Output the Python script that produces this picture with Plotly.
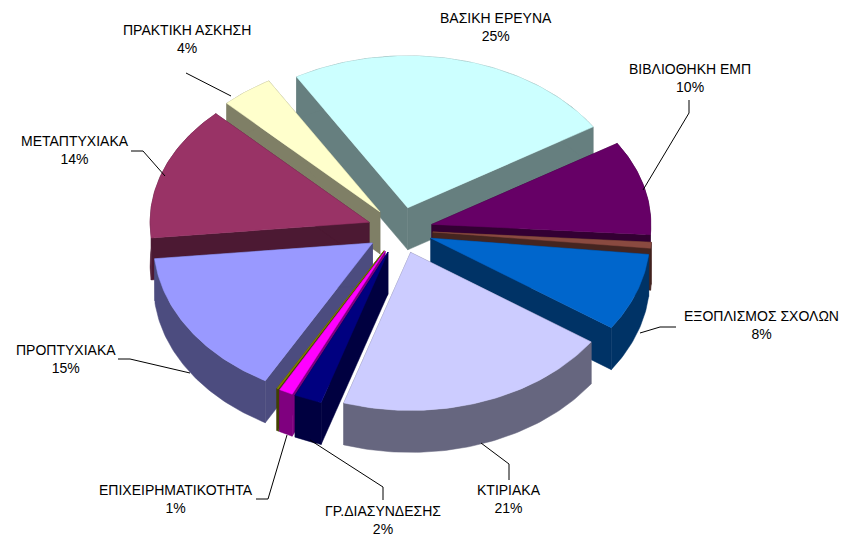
import math
import plotly.graph_objects as go

# data (slice shares as drawn, clockwise from the first slice)
categories = ["ΒΑΣΙΚΗ ΕΡΕΥΝΑ", "ΒΙΒΛΙΟΘΗΚΗ ΕΜΠ", "(μικρό)", "ΕΞΟΠΛΙΣΜΟΣ ΣΧΟΛΩΝ", "ΚΤΙΡΙΑΚΑ",
              "ΓΡ.ΔΙΑΣΥΝΔΕΣΗΣ", "ΕΠΙΧΕΙΡΗΜΑΤΙΚΟΤΗΤΑ", "(μικρό 2)", "ΠΡΟΠΤΥΧΙΑΚΑ", "ΜΕΤΑΠΤΥΧΙΑΚΑ", "ΠΡΑΚΤΙΚΗ ΑΣΚΗΣΗ"]
values = [24.1, 9.8, 0.6, 7.8, 20, 2, 1, 0.15, 15, 14, 3.8]
colors = ["#CCFFFF", "#660066", "#8A4A40", "#0066CC", "#CCCCFF",
          "#000080", "#FF00FF", "#808000", "#9999FF", "#993366", "#FFFFCC"]

labels = [("ΒΑΣΙΚΗ ΕΡΕΥΝΑ<br>25%", 496, 27), ("ΒΙΒΛΙΟΘΗΚΗ ΕΜΠ<br>10%", 690, 78),
          ("ΕΞΟΠΛΙΣΜΟΣ ΣΧΟΛΩΝ<br>8%", 761, 325), ("ΚΤΙΡΙΑΚΑ<br>21%", 509, 499),
          ("ΓΡ.ΔΙΑΣΥΝΔΕΣΗΣ<br>2%", 383, 520), ("ΕΠΙΧΕΙΡΗΜΑΤΙΚΟΤΗΤΑ<br>1%", 176, 499),
          ("ΠΡΟΠΤΥΧΙΑΚΑ<br>15%", 66, 359), ("ΜΕΤΑΠΤΥΧΙΑΚΑ<br>14%", 75, 150),
          ("ΠΡΑΚΤΙΚΗ ΑΣΚΗΣΗ<br>4%", 187, 39)]
leaders = [[(689, 100), (689, 113), (643, 190)], [(676, 327), (660, 327), (640, 333)],
           [(509, 480), (509, 464), (481, 443)], [(383, 500), (383, 487), (310, 440)],
           [(287, 435), (268, 499), (256, 499)], [(118, 359), (130, 359), (190, 373)],
           [(131, 151), (143, 151), (165, 176)], [(186, 73), (231, 96)]]

CX, CY, RX, RY_BACK, RY_FRONT, DEPTH, PULL, START = 400, 230, 219, 152, 158, 42, 0.15, -30.5


def ry(t):
    return RY_BACK if math.cos(t) > 0 else RY_FRONT


def pt(t, ox, oy, dz=0):
    return ox + RX * math.sin(t), oy - ry(t) * math.cos(t) + dz


def shade(hex_color, k=0.5):
    r, g, b = (int(hex_color[i:i + 2], 16) for i in (1, 3, 5))
    return "rgb(%d,%d,%d)" % (r * k, g * k, b * k)


fig = go.Figure()


def poly(points, color):
    fig.add_trace(go.Scatter(x=[p[0] for p in points] + [points[0][0]],
                             y=[p[1] for p in points] + [points[0][1]],
                             mode="lines", fill="toself", fillcolor=color,
                             line=dict(color=color, width=0.5),
                             hoverinfo="skip", showlegend=False))


total = sum(values)
slices = []
a = START
for name, v, c in zip(categories, values, colors):
    span = v / total * 360
    slices.append((math.radians(a), math.radians(a + span), c))
    a += span

# painter's order: the slices at the back first
for t0, t1, c in sorted(slices, key=lambda s: -math.cos((s[0] + s[1]) / 2)):
    tm = (t0 + t1) / 2
    ox = CX + PULL * RX * math.sin(tm)
    oy = CY - PULL * ry(tm) * math.cos(tm)
    n = max(4, int((t1 - t0) * 60))
    ts = [t0 + (t1 - t0) * i / n for i in range(n + 1)]
    dark = shade(c)
    for t in (t0, t1):
        e = pt(t, ox, oy)
        poly([(ox, oy), e, (e[0], e[1] + DEPTH), (ox, oy + DEPTH)], dark)
    poly([pt(t, ox, oy) for t in ts] + [pt(t, ox, oy, DEPTH) for t in reversed(ts)], dark)
    poly([(ox, oy)] + [pt(t, ox, oy) for t in ts], c)

for line in leaders:
    fig.add_trace(go.Scatter(x=[p[0] for p in line], y=[p[1] for p in line], mode="lines",
                             line=dict(color="black", width=1), hoverinfo="skip", showlegend=False))

fig.update_layout(
    width=841, height=537, margin=dict(l=0, r=0, t=0, b=0),
    paper_bgcolor="white", plot_bgcolor="white", showlegend=False,
    xaxis=dict(range=[0, 841], visible=False, fixedrange=True),
    yaxis=dict(range=[537, 0], visible=False, fixedrange=True),
    annotations=[dict(x=x, y=y, xref="x", yref="y", text=t, showarrow=False, align="center",
                      font=dict(family="Liberation Sans, Arial", size=14, color="black"))
                 for t, x, y in labels],
)
fig.write_html("out.html", config={"displayModeBar": False},
               post_script="document.body.style.margin='0';document.body.style.overflow='hidden';")
